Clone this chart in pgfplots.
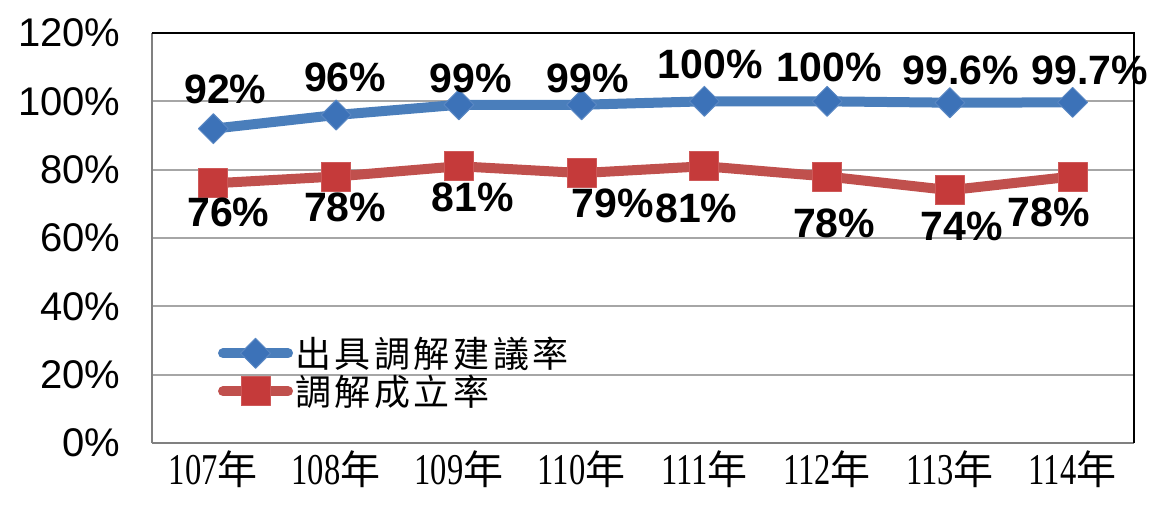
\documentclass[border=0pt]{standalone}
\usepackage{fontspec}
\setmainfont{Liberation Sans}
\newfontfamily\serifnum{Liberation Serif}
\newfontfamily\cjk{Noto Sans CJK TC}
\newfontfamily\cjkleg{Noto Sans CJK TC}[LetterSpace=10]
\usepackage{pgfplots}
\usepackage{pgfplotstable}
\pgfplotsset{compat=1.18}
\definecolor{blueL}{HTML}{4A7EBB}
\definecolor{blueM}{HTML}{3C72B8}
\definecolor{redL}{HTML}{C0504D}
\definecolor{redM}{HTML}{C53A3A}
\pgfplotstableread{
x y dx dy
0 92 12 39
1 96 9 38
2 99 12 26
3 99 6 26
4 100 6 37
5 100 2 34
6 99.6 11 32
7 99.7 17 32
}\bluetab
\pgfplotstableread{
x y dx dy
0 76 15 -29
1 78 9 -31
2 81 14 -31
3 79 31 -30
4 81 -8 -42
5 78 7 -47
6 74 12 -36
7 78 -24 -36
}\redtab
\newcommand\xl[1]{{\serifnum\fontsize{44}{48}\selectfont\scalebox{0.74}[1]{#1}}{\cjk\fontsize{40}{44}\selectfont 年}}
\begin{document}
\begin{tikzpicture}
\begin{axis}[
  scale only axis, width=982pt, height=410pt,
  xmin=-0.5, xmax=7.5, ymin=0, ymax=120,
  clip=false,
  axis x line*=bottom, axis y line*=left,
  xtick={0,...,7},
  xticklabels={\xl{107},\xl{108},\xl{109},\xl{110},\xl{111},\xl{112},\xl{113},\xl{114}},
  ytick={0,20,...,120},
  yticklabel={\pgfmathprintnumber{\tick}\%},
  /pgf/number format/assume math mode=true,
  major tick length=0pt,
  ymajorgrids, grid style={line width=2pt, color=black!35},
  axis line style={line width=2.5pt, color=black!50},
  yticklabel style={font=\fontsize{40}{46}\selectfont, xshift=-28pt},
  xticklabel style={font=\fontsize{38}{44}\selectfont, yshift=-4pt},
  legend style={at={(0.064,0.268)}, anchor=north west, draw=none, fill=none,
    font=\cjkleg\fontsize{36}{40}\selectfont, row sep=2pt, nodes={inner sep=2pt}},
  legend cell align=left,
  legend image code/.code={\draw[#1, mark repeat=2, mark phase=2, line cap=round] plot coordinates {(0pt,0pt) (32.5pt,0pt) (65pt,0pt)};},
  nodes near coords={\pgfmathprintnumber{\pgfplotspointmeta}\%},
  point meta=explicit,
  nodes near coords style={anchor=center, font=\bfseries\fontsize{41}{46}\selectfont, text=black, xshift=\dx, yshift=\dy},
  after end axis/.code={
    \draw[black, line width=2pt] (rel axis cs:0,1) -- (rel axis cs:1,1) -- (rel axis cs:1,0);
    \coordinate (sw) at (rel axis cs:0,0);
  },
]
\addplot[blueL, line width=10pt, line join=round, mark=square*, mark size=10.6pt,
  mark options={rotate=45, fill=blueM, draw=blueM!85!white, line width=1pt},
  visualization depends on={\thisrow{dx} \as \dx},
  visualization depends on={\thisrow{dy} \as \dy}]
  table[x=x, y=y, meta=y] {\bluetab};
\addlegendentry{出具調解建議率}
\addplot[redL, line width=10pt, line join=round, mark=square*, mark size=14.5pt,
  mark options={fill=redM, draw=redM!85!white, line width=1pt},
  visualization depends on={\thisrow{dx} \as \dx},
  visualization depends on={\thisrow{dy} \as \dy}]
  table[x=x, y=y, meta=y] {\redtab};
\addlegendentry{調解成立率}
\end{axis}
\pgfresetboundingbox
\path (sw) ++(-152pt,-61pt) rectangle ++(1151pt,504pt);
\end{tikzpicture}
\end{document}
